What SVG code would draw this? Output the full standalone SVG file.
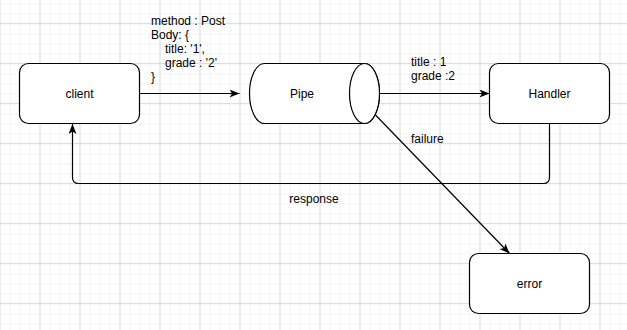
<svg xmlns="http://www.w3.org/2000/svg" width="627" height="330" viewBox="0 0 627 330">
<style>
.node{fill:#fff;stroke:#000;stroke-width:1.2}
.edge{fill:none;stroke:#000;stroke-width:1.2}
text{font-family:"Liberation Sans",Arial,sans-serif;font-size:12px;fill:#000}
.c{text-anchor:middle}
</style>
<defs>
<pattern id="minor" width="10" height="10" patternUnits="userSpaceOnUse" x="-0.5" y="3.5">
<path d="M0,0.5 H10 M0.5,0 V10" stroke="#f2f2f2" stroke-width="1" fill="none"/>
</pattern>
<pattern id="major" width="40" height="40" patternUnits="userSpaceOnUse" x="-0.5" y="23">
<path d="M0,0.5 H40 M0.5,0 V40" stroke="#dedede" stroke-width="1" fill="none"/>
</pattern>
<marker id="arr" viewBox="0 0 10 8" refX="10" refY="4" markerWidth="10" markerHeight="8" markerUnits="userSpaceOnUse" orient="auto">
<path d="M0,0 L10,4 L0,8 L2.5,4 Z" fill="#000"/>
</marker>
</defs>
<rect width="627" height="330" fill="#fff"/>
<rect width="627" height="330" fill="url(#minor)"/>
<rect width="627" height="330" fill="url(#major)"/>

<g id="connectors">
<path class="edge" d="M139.5,93.5 H239.5" marker-end="url(#arr)"/>
<path class="edge" d="M379.5,93.5 H489.5" marker-end="url(#arr)"/>
<path class="edge" d="M549.5,123.5 V177.5 Q549.5,183.5 543.5,183.5 H78.5 Q72.5,183.5 72.5,177.5 V124" marker-end="url(#arr)"/>
<path class="edge" d="M375.5,115 L509.5,253.5" marker-end="url(#arr)"/>
</g>

<g id="labels">
<text x="151" y="25">method : Post</text>
<text x="151" y="39">Body: {</text>
<text x="165" y="53">title: '1',</text>
<text x="165" y="67">grade : '2'</text>
<text x="151" y="81">}</text>
<text x="411" y="66">title : 1</text>
<text x="411" y="80">grade :2</text>
<text x="411" y="143">failure</text>
<text x="314" y="203" class="c">response</text>
</g>

<g id="client">
<rect class="node" x="19.5" y="63.5" width="120" height="60" rx="9"/>
<text x="79.5" y="97.5" class="c">client</text>
</g>
<g id="pipe">
<path class="node" d="M264.5,63.5 H364.5 A15,30 0 0 1 364.5,123.5 H264.5 A15,30 0 0 1 264.5,63.5 Z"/>
<ellipse class="node" cx="364.5" cy="93.5" rx="15" ry="30"/>
<text x="302" y="97.5" class="c">Pipe</text>
</g>
<g id="handler">
<rect class="node" x="489.5" y="63.5" width="120" height="60" rx="9"/>
<text x="549.5" y="97.5" class="c">Handler</text>
</g>
<g id="error">
<rect class="node" x="469.5" y="253.5" width="120" height="60" rx="9"/>
<text x="529.5" y="287.5" class="c">error</text>
</g>
</svg>
